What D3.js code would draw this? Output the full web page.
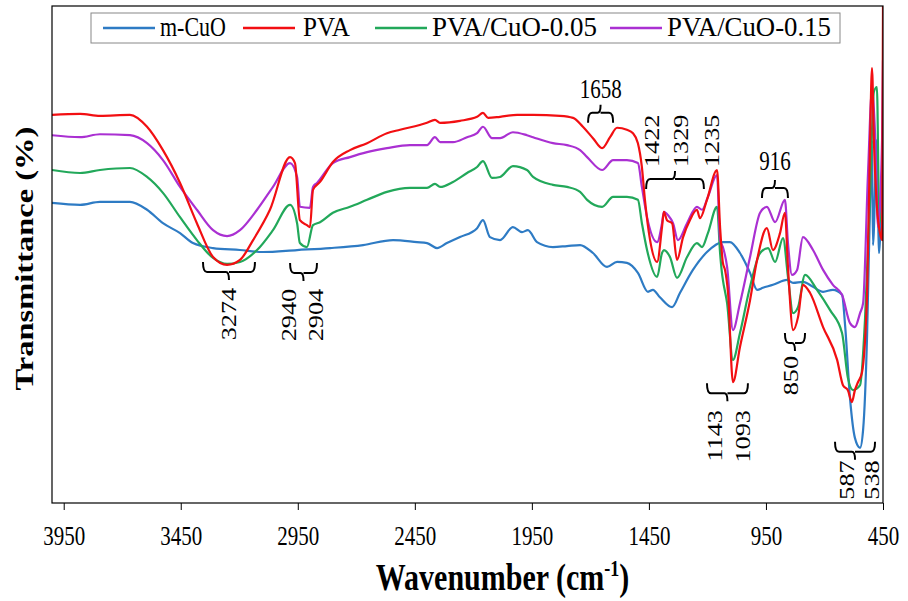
<!DOCTYPE html>
<html>
<head>
<meta charset="utf-8">
<script src="https://cdn.jsdelivr.net/npm/d3@7"></script>
<style>
  body { margin: 0; background: #fff; }
  svg text { font-family: "Liberation Serif", "Times New Roman", "DejaVu Serif", serif !important; fill: #000; }
</style>
</head>
<body>
<svg id="chart" width="908" height="601" font-family="Liberation Serif, serif"></svg>
<script>
// FTIR spectra: wavenumber (cm-1) and transmittance (arbitrary %, offset curves)
const mcuoWn = [4000,3880,3795,3667,3594,3526,3453,3398,3312,3197,3099,2953,2812,2671,2543,2441,2398,2355,2313,2257,2184,2159,2129,2086,2031,1992,1967,1928,1860,1800,1744,1689,1629,1586,1544,1497,1454,1433,1403,1351,1317,1262,1202,1134,1104,1061,1018,988,963,920,860,834,792,749,706,664,625,612,591,570,548,535,518,506,497,493,476,467,454,450];
const mcuoT  = [60.4,60.0,60.6,60.6,59.0,56.3,54.3,52.3,51.3,50.9,50.5,50.9,51.3,51.9,52.9,52.5,52.3,51.3,52.3,53.5,55.3,56.9,53.5,52.9,55.5,54.5,54.9,52.5,51.5,51.7,51.9,50.3,47.5,48.5,48.3,46.3,42.5,42.9,41.4,39.4,42.3,46.9,50.5,52.5,52.5,50.3,46.3,42.9,43.3,43.9,44.9,44.3,44.5,43.5,42.5,42.9,41.9,35.8,21.1,13.1,11.1,14.7,33.8,59.0,73.0,51.9,73.0,50.3,67.0,73.0];

const pvaWn = [4000,3880,3795,3667,3594,3526,3453,3381,3312,3252,3197,3141,3069,2983,2962,2941,2911,2898,2885,2855,2800,2727,2654,2569,2513,2398,2364,2342,2257,2184,2159,2137,2086,2013,1945,1830,1774,1732,1689,1650,1616,1586,1544,1518,1497,1480,1467,1445,1415,1394,1386,1373,1351,1330,1304,1275,1245,1232,1202,1159,1146,1134,1125,1112,1091,1061,1018,988,946,920,890,869,856,834,813,792,762,706,646,621,600,583,570,557,540,518,506,497,489,476,463,454,450];
const pvaT  = [78.1,78.3,77.9,78.1,75.7,71.0,64.4,56.3,49.5,47.9,48.9,52.9,59.0,69.6,68.4,56.9,55.9,55.5,63.0,64.6,68.6,71.0,72.4,74.4,75.1,76.5,77.1,76.5,76.9,77.7,78.5,77.5,77.7,78.1,78.1,77.9,77.5,75.7,73.4,71.4,73.6,75.5,75.1,74.4,72.4,67.6,61.0,52.9,48.5,55.5,58.6,56.9,56.3,48.9,53.5,56.9,59.0,57.3,61.0,67.0,55.5,48.3,46.9,42.3,24.3,31.4,40.8,48.9,55.3,50.9,54.3,58.4,47.5,34.8,37.4,43.9,42.3,35.4,28.8,23.7,22.7,20.3,22.7,24.3,26.2,42.3,71.0,87.5,73.0,59.6,54.3,52.9,100];

const pva05Wn = [4000,3880,3795,3667,3594,3526,3453,3381,3312,3252,3197,3124,3056,2983,2953,2941,2911,2885,2855,2800,2727,2654,2569,2471,2398,2364,2342,2287,2227,2184,2159,2120,2086,2031,1971,1945,1860,1800,1744,1714,1650,1603,1544,1497,1480,1458,1415,1394,1386,1360,1330,1287,1245,1223,1198,1159,1146,1138,1134,1116,1091,1061,1018,975,941,911,877,856,834,813,783,732,676,625,600,578,548,527,506,489,476,467,454,450];
const pva05T  = [67.0,66.4,67.0,67.4,65.6,62.4,57.5,52.9,49.3,48.1,48.5,50.9,54.9,60.0,56.3,52.3,51.5,55.9,56.5,58.4,59.6,61.0,62.6,63.4,63.4,64.2,63.6,64.6,66.4,67.6,68.8,65.4,65.6,67.8,67.0,65.6,64.0,63.6,62.6,61.0,59.6,61.6,61.6,61.0,56.3,50.9,45.5,50.3,50.9,49.5,45.3,49.5,52.3,51.5,54.3,59.6,50.3,46.3,44.9,40.2,28.8,34.2,43.5,50.3,51.3,48.5,53.3,45.5,38.2,39.4,45.9,42.9,38.8,34.2,25.2,22.7,23.7,36.8,61.0,82.7,83.7,59.6,56.3,55.9];

const pva15Wn = [4000,3880,3795,3667,3594,3526,3453,3381,3312,3252,3197,3124,3056,2983,2953,2941,2898,2885,2868,2800,2727,2654,2569,2471,2398,2364,2342,2287,2227,2184,2159,2120,2086,2031,1971,1945,1860,1800,1744,1714,1650,1603,1544,1497,1480,1458,1415,1394,1386,1368,1347,1326,1287,1245,1223,1198,1159,1146,1134,1116,1091,1061,1018,975,946,911,869,856,839,817,792,749,706,664,625,591,570,548,535,514,497,484,471,454,450];
const pva15T  = [74.0,73.6,74.2,74.0,72.4,69.0,63.6,59.0,54.9,53.7,54.9,59.0,63.6,68.4,65.6,59.6,59.4,63.6,64.4,68.4,69.6,70.6,71.4,72.0,72.0,73.6,72.6,72.6,73.6,74.4,75.7,73.4,73.4,74.6,74.0,73.6,72.4,72.0,71.0,69.6,67.0,69.0,69.0,68.4,63.6,57.5,52.5,56.3,58.6,57.9,56.3,52.9,56.3,59.6,59.0,61.6,66.0,52.9,51.5,47.5,34.8,40.2,49.5,58.4,59.6,56.5,61.0,52.3,45.9,46.9,53.5,50.9,46.9,43.9,41.9,36.2,35.4,38.2,40.2,66.4,83.1,74.4,55.5,73.0,89.1];

const seriesNames  = ["m-CuO", "PVA", "PVA/CuO-0.05", "PVA/CuO-0.15"];
const seriesColors = ["#2E7BC4", "#F20F12", "#22A85A", "#AA30D2"];
const xTickValues  = [3950, 3450, 2950, 2450, 1950, 1450, 950, 450];

const series = [
  { name: seriesNames[0], color: seriesColors[0], pts: d3.zip(mcuoWn, mcuoT) },
  { name: seriesNames[1], color: seriesColors[1], pts: d3.zip(pvaWn, pvaT) },
  { name: seriesNames[2], color: seriesColors[2], pts: d3.zip(pva05Wn, pva05T) },
  { name: seriesNames[3], color: seriesColors[3], pts: d3.zip(pva15Wn, pva15T) }
];

const FONT = "Liberation Serif, Times New Roman, serif";
const svg = d3.select("#chart");
const plot = { left: 52, right: 883, top: 6, bottom: 503 };
const x = d3.scaleLinear().domain([4000, 450]).range([plot.left, plot.right]);
const y = d3.scaleLinear().domain([0, 100]).range([plot.bottom, plot.top]);

const STRETCH = 1.25; // glyphs are drawn taller than wide

svg.append("defs").append("clipPath").attr("id", "plotClip")
  .append("rect").attr("x", plot.left).attr("y", plot.top)
  .attr("width", plot.right - plot.left).attr("height", plot.bottom - plot.top);

// spectra
const line = d3.line().x(d => x(d[0])).y(d => y(d[1])).curve(d3.curveMonotoneX);
const order = [0, 2, 3, 1];
svg.append("g").attr("clip-path", "url(#plotClip)")
  .selectAll("path").data(order.map(i => series[i])).join("path")
  .attr("d", d => line(d.pts))
  .attr("fill", "none").attr("stroke", d => d.color)
  .attr("stroke-width", 2.2).attr("stroke-linejoin", "round");

// frame
svg.append("rect").attr("x", plot.left).attr("y", plot.top)
  .attr("width", plot.right - plot.left).attr("height", plot.bottom - plot.top)
  .attr("fill", "none").attr("stroke", "#000").attr("stroke-width", 1.2);

// x axis
const xAxis = svg.append("g").attr("transform", `translate(0,${plot.bottom})`)
  .call(d3.axisBottom(x).tickValues(xTickValues).tickSize(7).tickPadding(6).tickFormat(d3.format("d")));
xAxis.attr("font-family", FONT);
xAxis.select(".domain").remove();
xAxis.selectAll(".tick line").attr("stroke", "#000").attr("stroke-width", 1);
xAxis.selectAll(".tick text").remove();
xAxis.selectAll(".tick").append("text")
  .attr("transform", `translate(0,${42}) scale(1,1.3)`)
  .attr("text-anchor", "middle")
  .attr("font-family", FONT)
  .style("font-size", "21px")
  .text(d => d);

// axis titles
const xt = svg.append("text")
  .attr("transform", `translate(${(plot.left + plot.right) / 2 + 35},590) scale(1,${STRETCH})`)
  .attr("text-anchor", "middle").attr("font-family", FONT)
  .style("font-size", "30px").style("font-weight", "bold");
xt.append("tspan").text("Wavenumber (cm");
xt.append("tspan").attr("dy", -11).style("font-size", "18px").text("-1");
xt.append("tspan").attr("dy", 11).text(")");

svg.append("text")
  .attr("transform", `translate(33,${plot.top + (plot.bottom - plot.top) / 2 + 4}) rotate(-90) scale(${STRETCH},1)`)
  .attr("text-anchor", "middle").attr("font-family", FONT)
  .style("font-size", "26px").style("font-weight", "bold")
  .text("Transmittance (%)");

// legend
const legend = svg.append("g");
legend.append("rect").attr("x", 91).attr("y", 13).attr("width", 749).attr("height", 30)
  .attr("fill", "#fff").attr("stroke", "#888").attr("stroke-width", 1);
const legendX = [103, 243, 375, 610];
const legendTextWidth = [66, 47, 165, 164];
series.forEach((s, i) => {
  const g = legend.append("g").attr("transform", `translate(${legendX[i]},28)`);
  g.append("line").attr("x1", 0).attr("x2", 52).attr("stroke", s.color).attr("stroke-width", 2.5);
  g.append("text").attr("transform", `translate(${i === 1 ? 60 : 57},8) scale(1,1.1)`)
    .attr("font-family", FONT)
    .attr("textLength", legendTextWidth[i]).attr("lengthAdjust", "spacingAndGlyphs")
    .style("font-size", "24px").text(s.name);
});

// peak annotations: brackets (wavenumber span, transmittance level, stem direction)
const brackets = [
  { lo: 3355, hi: 3133, t: 46.5, dir: 1 },
  { lo: 2983, hi: 2868, t: 46.3, dir: 1 },
  { lo: 1710, hi: 1603, t: 78.5, dir: -1 },
  { lo: 1462, hi: 1215, t: 65.2, dir: -1 },
  { lo: 967,  hi: 856,  t: 63.4, dir: -1 },
  { lo: 869,  hi: 783,  t: 32.2, dir: 1 },
  { lo: 1202, hi: 1027, t: 22.1, dir: 1 },
  { lo: 655,  hi: 484,  t: 10.3, dir: 1 }
];
const ann = svg.append("g").attr("fill", "none").attr("stroke", "#000").attr("stroke-width", 2);
brackets.forEach(b => {
  const x1 = x(b.lo), x2 = x(b.hi), yy = y(b.t), xc = (x1 + x2) / 2;
  const arm = 10 * b.dir, stem = 8 * b.dir;
  ann.append("path").attr("d",
    `M${x1},${yy - arm} Q${x1},${yy} ${x1 + 4},${yy} L${xc - 3},${yy} Q${xc},${yy} ${xc},${yy + stem} ` +
    `M${xc},${yy} Q${xc},${yy} ${xc + 3},${yy} L${x2 - 4},${yy} Q${x2},${yy} ${x2},${yy - arm}`);
});

// peak labels: horizontal ones sit above their bracket, vertical ones read bottom-to-top
const peakLabels = [
  { text: "3274", wn: 3244, t: 43.3, vertical: true,  anchor: "end" },
  { text: "2940", wn: 2987, t: 43.1, vertical: true,  anchor: "end" },
  { text: "2904", wn: 2872, t: 43.1, vertical: true,  anchor: "end" },
  { text: "1658", wn: 1656, t: 81.5, vertical: false },
  { text: "1422", wn: 1435, t: 67.6, vertical: true,  anchor: "start" },
  { text: "1329", wn: 1312, t: 67.6, vertical: true,  anchor: "start" },
  { text: "1235", wn: 1180, t: 67.6, vertical: true,  anchor: "start" },
  { text: "916",  wn: 911,  t: 67.0, vertical: false },
  { text: "850",  wn: 843,  t: 29.6, vertical: true,  anchor: "end" },
  { text: "1143", wn: 1168, t: 18.7, vertical: true,  anchor: "end" },
  { text: "1093", wn: 1048, t: 18.7, vertical: true,  anchor: "end" },
  { text: "587",  wn: 604,  t: 8.6,  vertical: true,  anchor: "end" },
  { text: "538",  wn: 497,  t: 8.6,  vertical: true,  anchor: "end" }
];
svg.append("g").selectAll("text").data(peakLabels).join("text")
  .attr("transform", d => d.vertical
    ? `translate(${x(d.wn) + 7},${y(d.t)}) rotate(-90) scale(${STRETCH},1)`
    : `translate(${x(d.wn)},${y(d.t)}) scale(1,${STRETCH})`)
  .attr("text-anchor", d => d.vertical ? d.anchor : "middle")
  .attr("font-family", FONT)
  .style("font-size", "21px")
  .text(d => d.text);
</script>
</body>
</html>
